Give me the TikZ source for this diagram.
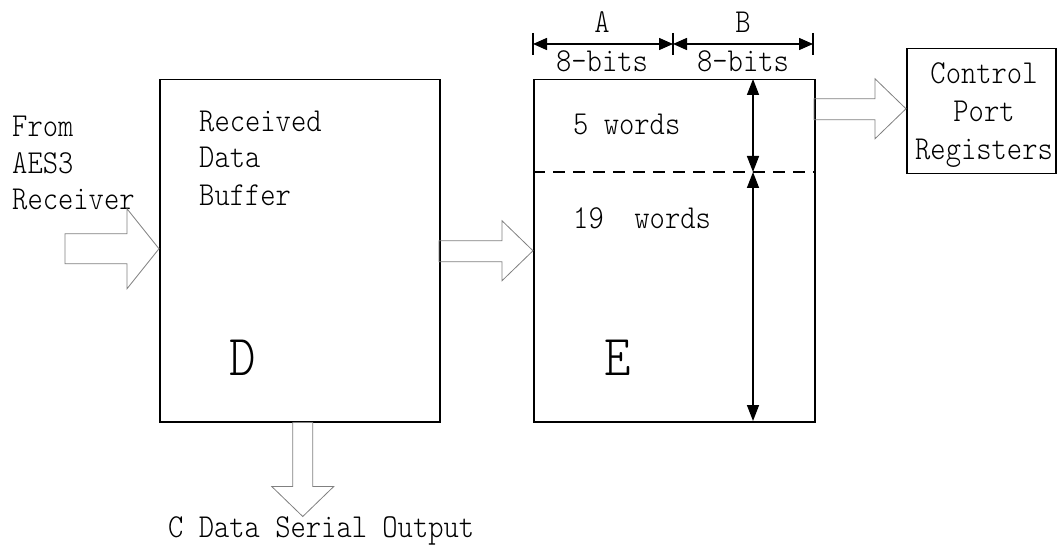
\documentclass[tikz,border=0pt]{standalone}
\usepackage{fontspec}
\setmainfont{lmmonolt10-regular}[Extension=.otf,FakeStretch=0.87]
\usetikzlibrary{arrows.meta,calc}
\begin{document}
\begin{tikzpicture}[x=1pt,y=-1pt,
  box/.style={draw,line width=1.5pt,inner sep=0pt,anchor=north west},
  hollow/.style={draw=black!50,line width=0.8pt,line join=miter},
  txt/.style={inner sep=0pt,anchor=base west,font=\fontsize{33.5}{36}\selectfont},
  ctxt/.style={inner sep=0pt,anchor=base,font=\fontsize{33.5}{36}\selectfont},
  big/.style={inner sep=0pt,anchor=base west,font=\fontsize{58}{64}\selectfont},
  dimarr/.style={line width=1.5pt,{Triangle[length=16pt,width=12pt]}-{Triangle[length=16pt,width=12pt]}},
  hdim/.style={line width=1.5pt,{Triangle[length=14pt,width=12pt]}-{Triangle[length=14pt,width=12pt]}},
  tick/.style={line width=1.5pt},
  divline/.style={line width=1.5pt,dash pattern=on 12pt off 8pt}]
\useasboundingbox (0,0) rectangle (1057,548);

% boxes
\node[box,minimum width=280pt,minimum height=342pt] (D) at (159,79) {};
\node[box,minimum width=281pt,minimum height=342pt] (E) at (533,79) {};
\node[box,minimum width=149pt,minimum height=125pt] (C) at (906,48) {};

% texts
\node[txt] (from1) at (12,137) {From};
\node[txt] (from2) at (12,174) {AES3};
\node[txt] (from3) at (12,210) {Receiver};
\node[txt] (rdb1) at (199,132) {Received};
\node[txt] (rdb2) at (199,168) {Data};
\node[txt] (rdb3) at (199,205) {Buffer};
\node[big] (Dlab) at (229,375) {D};
\node[big] (Elab) at (604,375) {E};
\node[txt] (w5) at (573,135) {5 words};
\node[txt] (w19) at (573,228) {19~~words};
\node[ctxt] (cp1) at (984,84) {Control};
\node[ctxt] (cp2) at (984,122) {Port};
\node[ctxt] (cp3) at (984,160) {Registers};
\node[txt] (cout) at (168,537) {C Data Serial Output};
\node[ctxt] (labA) at (602,33) {A};
\node[ctxt] (labB) at (743,33) {B};
\node[ctxt] (bitsA) at (602,72) {8-bits};
\node[ctxt] (bitsB) at (743,72) {8-bits};

% dashed divider
\coordinate (dl) at (533,172);
\coordinate (dr) at (814,172);
\draw[divline] (dl) -- (dr);

% vertical dimension arrows
\coordinate (vt) at (753,79);
\coordinate (vm) at (753,172);
\coordinate (vb) at (753,421);
\draw[dimarr] (vt) -- (vm);
\draw[dimarr] (vm) -- (vb);

% top dimension
\coordinate (ha) at (533,44);
\coordinate (hb) at (673,44);
\coordinate (hc) at (813,44);
\draw[tick] (533,33) -- (533,55);
\draw[tick] (673,33) -- (673,55);
\draw[tick] (813,33) -- (813,55);
\draw[hdim] (ha) -- (hb);
\draw[hdim] (hb) -- (hc);

% hollow arrows
\draw[hollow] ([yshift=2pt]D.west) -- ++(-32,-40) -- ++(0,25) -- ++(-62,0) -- ++(0,30) -- ++(62,0) -- ++(0,25) -- cycle;
\draw[hollow] (E.west) -- ++(-31,-30) -- ++(0,20) -- ++(-63,0) -- ++(0,21) -- ++(63,0) -- ++(0,19) -- cycle;
\draw[hollow] ([yshift=2.5pt]C.west) -- ++(-31,-30) -- ++(0,20) -- ++(-61,0) -- ++(0,21) -- ++(61,0) -- ++(0,19) -- cycle;
\draw[hollow] ([xshift=-7pt]D.south) -- ++(0,64) -- ++(-21,0) -- ++(31,30) -- ++(31,-30) -- ++(-21,0) -- ++(0,-64) -- cycle;
\end{tikzpicture}
\end{document}
